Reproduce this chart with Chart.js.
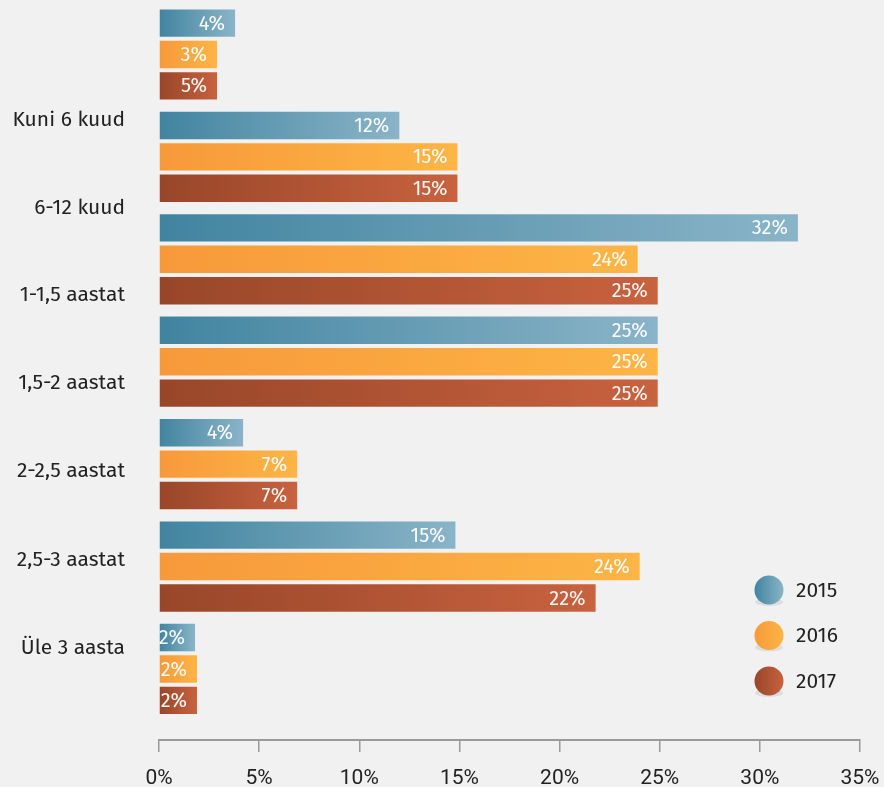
<!DOCTYPE html>
<html>
<head>
<meta charset="utf-8">
<script src="https://cdn.jsdelivr.net/npm/chart.js@4/dist/chart.umd.min.js"></script>
<style>
  html, body { margin: 0; padding: 0; background: #f1f1f1; }
  #wrap { width: 884px; height: 787px; position: relative; }
</style>
</head>
<body>
<div id="wrap"><canvas id="kestus"></canvas></div>
<script>
const categories = ['Kuni 6 kuud', '6-12 kuud', '1-1,5 aastat', '1,5-2 aastat', '2-2,5 aastat', '2,5-3 aastat', 'Üle 3 aasta'];
const years = ['2015', '2016', '2017'];

// bar lengths (percent)
const values2015 = [3.8, 12.0, 31.9, 24.9, 4.2, 14.8, 1.8];
const values2016 = [2.9, 14.9, 23.9, 24.9, 6.9, 24.0, 1.9];
const values2017 = [2.9, 14.9, 24.9, 24.9, 6.9, 21.8, 1.9];

// printed labels on the bars
const labels2015 = ['4%', '12%', '32%', '25%', '4%', '15%', '2%'];
const labels2016 = ['3%', '15%', '24%', '25%', '7%', '24%', '2%'];
const labels2017 = ['5%', '15%', '25%', '25%', '7%', '22%', '2%'];

// where the category names sit on the row axis (they drift from the bar groups in the original)
const labelSlots = [0.64, 1.50, 2.35, 3.21, 4.07, 4.94, 5.80];

const xTicks = [0, 5, 10, 15, 20, 25, 30, 35];

const colorStops = [
  ['#41849f', '#8ab4c8'],
  ['#f7993b', '#fdb545'],
  ['#984629', '#c8623f'],
];

const FONT = '"Fira Sans", "Noto Sans", sans-serif';

function gradientFill(i) {
  return (ctx) => {
    const chart = ctx.chart;
    if (!chart.chartArea || ctx.type !== 'data') return colorStops[i][0];
    const xs = chart.scales.x;
    const x0 = xs.getPixelForValue(0);
    const x1 = xs.getPixelForValue(ctx.raw.x);
    if (x1 - x0 < 1) return colorStops[i][0];
    const g = chart.ctx.createLinearGradient(x0, 0, x1, 0);
    g.addColorStop(0, colorStops[i][0]);
    g.addColorStop(1, colorStops[i][1]);
    return g;
  };
}

const series = [values2015, values2016, values2017];
const barText = [labels2015, labels2016, labels2017];

const barLabels = {
  id: 'barLabels',
  afterDatasetsDraw(chart) {
    const c = chart.ctx;
    c.save();
    c.font = '20px ' + FONT;
    c.fillStyle = 'rgba(255,255,255,0.95)';
    c.textAlign = 'right';
    c.textBaseline = 'middle';
    chart.data.datasets.forEach((ds, i) => {
      chart.getDatasetMeta(i).data.forEach((el, j) => {
        c.fillText(barText[i][j], el.x - 10, el.y + 1);
      });
    });
    c.restore();
  }
};

const dotLegend = {
  id: 'dotLegend',
  afterDraw(chart) {
    const c = chart.ctx;
    const area = chart.chartArea;
    const cx = area.right - 91;
    c.save();
    years.forEach((yr, i) => {
      const cy = area.bottom - 150 + i * 45.5;
      // soft shadow under the dot
      c.fillStyle = 'rgba(0,0,0,0.08)';
      c.beginPath();
      c.ellipse(cx, cy + 12, 14, 4, 0, 0, Math.PI * 2);
      c.fill();
      const g = c.createLinearGradient(cx - 14.5, 0, cx + 14.5, 0);
      g.addColorStop(0, colorStops[i][0]);
      g.addColorStop(1, colorStops[i][1]);
      c.fillStyle = g;
      c.beginPath();
      c.arc(cx, cy, 14.5, 0, Math.PI * 2);
      c.fill();
      c.fillStyle = '#222';
      c.font = '21px ' + FONT;
      c.textAlign = 'left';
      c.textBaseline = 'middle';
      c.fillText(yr, cx + 27, cy + 1);
    });
    c.restore();
  }
};

const ctx = document.getElementById('kestus').getContext('2d');

new Chart(ctx, {
  type: 'bar',
  data: {
    datasets: years.map((yr, i) => ({
      label: yr,
      data: series[i].map((v, j) => ({ x: v, y: j })),
      backgroundColor: gradientFill(i),
      borderWidth: 0,
      categoryPercentage: 0.92,
      barPercentage: 0.873,
    })),
  },
  options: {
    indexAxis: 'y',
    responsive: true,
    maintainAspectRatio: false,
    animation: false,
    layout: { padding: { top: 3.3, right: 24, left: 0, bottom: 0 } },
    plugins: {
      legend: { display: false },
      tooltip: { enabled: false },
    },
    scales: {
      x: {
        type: 'linear',
        position: 'bottom',
        min: 0,
        max: 35,
        afterBuildTicks: (scale) => { scale.ticks = xTicks.map(v => ({ value: v })); },
        afterFit: (scale) => {
          scale.height = 47;
          scale.paddingLeft = 0;
          scale.paddingRight = 0;
        },
        ticks: {
          callback: (v) => v + '%',
          color: '#222',
          padding: 14,
          maxRotation: 0,
          font: { family: '"Liberation Sans Narrow", "Roboto", sans-serif', size: 21 },
        },
        grid: {
          drawOnChartArea: false,
          drawTicks: true,
          tickLength: 12,
          color: '#9a9a9a',
          lineWidth: 1.5,
        },
        border: { color: '#9a9a9a', width: 2 },
      },
      y: {
        type: 'linear',
        reverse: true,
        offset: false,
        min: -0.5,
        max: 6.694,
        display: false,
        afterBuildTicks: (scale) => { scale.ticks = categories.map((c, i) => ({ value: i })); },
      },
      yLabels: {
        type: 'linear',
        axis: 'y',
        position: 'left',
        reverse: true,
        offset: false,
        min: -0.5,
        max: 6.694,
        afterBuildTicks: (scale) => { scale.ticks = labelSlots.map(v => ({ value: v })); },
        afterFit: (scale) => {
          scale.width = 159;
          scale.paddingTop = 0;
          scale.paddingBottom = 0;
        },
        ticks: {
          autoSkip: false,
          padding: 0,
          color: '#222',
          font: { family: FONT, size: 21 },
          callback: (v, i) => categories[i],
        },
        grid: {
          display: true,
          drawOnChartArea: false,
          drawTicks: true,
          tickLength: 34,
          color: 'rgba(0,0,0,0)',
        },
        border: { display: false },
      },
    },
  },
  plugins: [barLabels, dotLegend],
});
</script>
</body>
</html>
